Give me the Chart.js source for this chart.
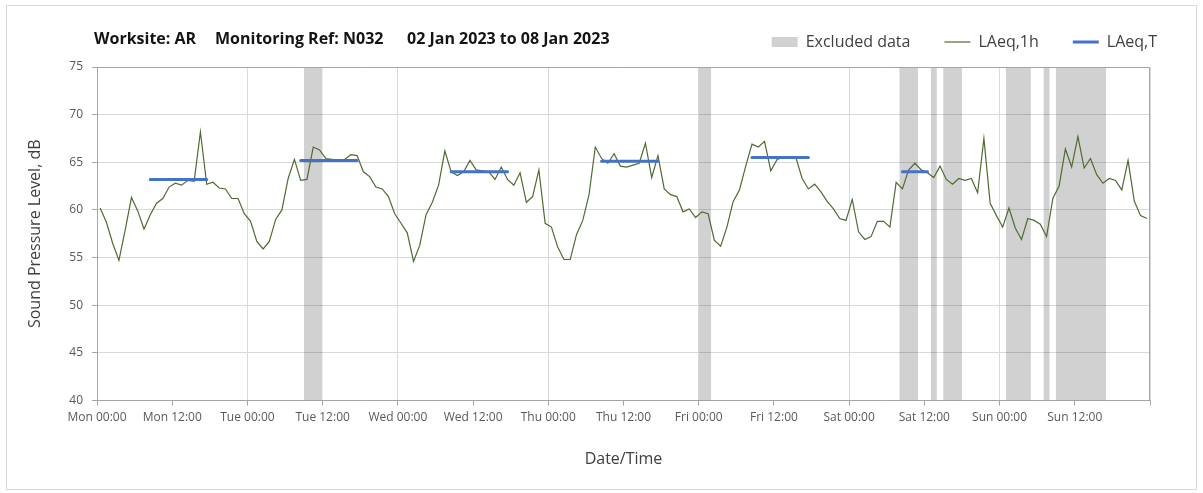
<!DOCTYPE html>
<html>
<head>
<meta charset="utf-8">
<title>Noise monitoring N032</title>
<script src="https://cdn.jsdelivr.net/npm/chart.js@4.4.0/dist/chart.umd.min.js"></script>
<style>
  html, body { margin: 0; padding: 0; background: #ffffff; }
  #wrap { position: relative; width: 1203px; height: 493px; overflow: hidden; }
  #frame { position: absolute; left: 6px; top: 5px; width: 1191px; height: 485px;
           border: 1px solid #d9d9d9; box-sizing: border-box; }
  #chart { position: absolute; left: 0; top: 0; }
  .head { position: absolute; top: 28px; line-height: 20px; white-space: pre;
          font-family: 'Open Sans', sans-serif; font-weight: 700; font-size: 16px; color: #141414; }
</style>
</head>
<body>
<div id="wrap">
  <div id="frame"></div>
  <canvas id="chart" width="1203" height="493"></canvas>
  <div class="head" style="left:94px">Worksite: AR</div>
  <div class="head" style="left:215px">Monitoring Ref: N032</div>
  <div class="head" style="left:407px">02 Jan 2023 to 08 Jan 2023</div>
</div>
<script>
// Hourly LAeq,1h values (dB), Monday 00:00 through Sunday 23:00
const laeq1h = [
  60.2, 58.7, 56.5, 54.7, 57.9, 61.3, 59.9, 58.0, 59.5, 60.7, 61.2, 62.4,
  62.8, 62.6, 63.1, 63.0, 68.2, 62.7, 62.9, 62.3, 62.2, 61.2, 61.2, 59.6,
  58.8, 56.7, 55.9, 56.7, 59.0, 60.0, 63.3, 65.3, 63.1, 63.2, 66.6, 66.3,
  65.4, 65.3, 65.2, 65.3, 65.8, 65.7, 64.0, 63.5, 62.4, 62.2, 61.4, 59.6,
  58.6, 57.6, 54.6, 56.3, 59.5, 60.8, 62.6, 66.2, 64.0, 63.6, 64.0, 65.2,
  64.2, 64.1, 64.0, 63.2, 64.5, 63.2, 62.6, 63.9, 60.8, 61.4, 64.2, 58.6,
  58.2, 56.1, 54.8, 54.8, 57.4, 58.9, 61.6, 66.6, 65.4, 64.9, 65.9, 64.6,
  64.5, 64.7, 64.9, 67.0, 63.4, 65.7, 62.2, 61.6, 61.4, 59.8, 60.1, 59.2,
  59.8, 59.6, 56.8, 56.2, 58.2, 60.9, 62.1, 64.6, 66.9, 66.6, 67.2, 64.1,
  65.3, 65.5, 65.6, 65.5, 63.3, 62.2, 62.7, 61.9, 60.9, 60.1, 59.1, 58.9,
  61.1, 57.7, 56.9, 57.2, 58.8, 58.8, 58.2, 62.9, 62.2, 64.2, 64.9, 64.2,
  63.9, 63.4, 64.6, 63.2, 62.7, 63.3, 63.1, 63.3, 61.8, 67.5, 60.7, 59.4,
  58.2, 60.2, 58.1, 56.9, 59.1, 58.9, 58.5, 57.2, 61.2, 62.5, 66.4, 64.5,
  67.7, 64.4, 65.4, 63.7, 62.8, 63.3, 63.1, 62.1, 65.2, 60.9, 59.4, 59.1
];

// LAeq,T assessment periods: first and last hour (hours from Monday 00:00) and level
const periodFirstHour = [8, 32, 56, 80, 104, 128];
const periodLastHour  = [17, 41, 65, 89, 113, 132];
const laeqT           = [63.2, 65.2, 64.0, 65.1, 65.5, 64.0];

// Excluded data windows (hours from Monday 00:00)
const excludedStart = [33, 96, 128, 133, 135, 145, 151, 153];
const excludedEnd   = [36, 98, 131, 134, 138, 149, 152, 161];

// Axis labels
const xTickLabels = [
  'Mon 00:00', 'Mon 12:00', 'Tue 00:00', 'Tue 12:00', 'Wed 00:00', 'Wed 12:00',
  'Thu 00:00', 'Thu 12:00', 'Fri 00:00', 'Fri 12:00', 'Sat 00:00', 'Sat 12:00',
  'Sun 00:00', 'Sun 12:00'
];
const yMin = 40, yMax = 75, yStep = 5;
const weekHours = 168, xStep = 12;

const GREEN = '#4f6b32';
const BLUE = '#4472c4';
const BAND = 'rgba(0,0,0,0.18)';
const TEXT = '#404040';
const TICK_TEXT = '#595959';
const FONT = "'Open Sans', sans-serif";

// Hourly points sit at the middle of each hour
const hourlyPoints = laeq1h.map((v, i) => ({ x: i + 0.5, y: v }));

// Period lines, separated by gaps
const periodPoints = [];
laeqT.forEach((v, k) => {
  periodPoints.push({ x: periodFirstHour[k] + 0.5, y: v });
  periodPoints.push({ x: periodLastHour[k] + 0.5, y: v });
  periodPoints.push({ x: periodLastHour[k] + 1, y: null });
});

const bandSets = excludedStart.map((s, k) => ({
  type: 'line',
  label: 'Excluded data',
  data: [{ x: s, y: yMax }, { x: excludedEnd[k], y: yMax }],
  fill: 'start',
  backgroundColor: BAND,
  borderColor: 'rgba(0,0,0,0)',
  borderWidth: 0,
  pointRadius: 0,
  order: 5
}));

// Plot-area outline on the top and right edges
const plotFrame = {
  id: 'plotFrame',
  afterDatasetsDraw(chart) {
    const { ctx, chartArea: a } = chart;
    ctx.save();
    ctx.strokeStyle = '#a6a6a6';
    ctx.lineWidth = 1;
    ctx.beginPath();
    ctx.moveTo(a.left, a.top + 0.5);
    ctx.lineTo(a.right - 0.5, a.top + 0.5);
    ctx.lineTo(a.right - 0.5, a.bottom);
    ctx.stroke();
    ctx.restore();
  }
};

new Chart(document.getElementById('chart'), {
  type: 'line',
  data: {
    datasets: [
      {
        label: 'LAeq,T',
        data: periodPoints,
        borderColor: BLUE,
        borderWidth: 3,
        borderCapStyle: 'round',
        pointRadius: 0,
        spanGaps: false,
        fill: false,
        order: 0
      },
      {
        label: 'LAeq,1h',
        data: hourlyPoints,
        borderColor: GREEN,
        borderWidth: 1.2,
        pointRadius: 0,
        tension: 0,
        fill: false,
        order: 1
      },
      ...bandSets
    ]
  },
  options: {
    responsive: false,
    devicePixelRatio: 1,
    animation: false,
    events: [],
    layout: { padding: { left: 0, right: 12, top: 0, bottom: 0 } },
    scales: {
      x: {
        type: 'linear',
        min: 0,
        max: weekHours,
        afterFit(scale) { scale.height = 92.5; },
        ticks: {
          stepSize: xStep,
          autoSkip: false,
          maxRotation: 0,
          padding: 5,
          color: TICK_TEXT,
          font: { family: FONT, size: 12 },
          callback: (v) => xTickLabels[v / xStep] ?? ''
        },
        grid: {
          color: (c) => (c.tick && c.tick.value % 24 === 0) ? '#d9d9d9' : 'rgba(0,0,0,0)',
          tickColor: '#a6a6a6',
          tickLength: 5,
          lineWidth: 1
        },
        border: { color: '#a6a6a6' },
        title: {
          display: true,
          text: 'Date/Time',
          color: TEXT,
          font: { family: FONT, size: 16 },
          padding: { top: 0, bottom: 23.5 }
        }
      },
      y: {
        min: yMin,
        max: yMax,
        afterFit(scale) { scale.width = 97; },
        ticks: {
          stepSize: yStep,
          padding: 9,
          color: TICK_TEXT,
          font: { family: FONT, size: 12 }
        },
        grid: { color: '#d9d9d9', tickColor: '#a6a6a6', tickLength: 5 },
        border: { color: '#a6a6a6' },
        title: {
          display: true,
          text: 'Sound Pressure Level, dB',
          color: TEXT,
          font: { family: FONT, size: 16 },
          padding: { top: 25.4, bottom: 0 }
        }
      },
      yRight: {
        position: 'right',
        display: true,
        afterFit(scale) { scale.width = 41; },
        ticks: { display: false },
        grid: { display: false },
        border: { display: false }
      }
    },
    plugins: {
      tooltip: { enabled: false },
      title: { display: false },
      subtitle: {
        display: true,
        text: '',
        weight: 500,
        font: { size: 1, lineHeight: 1 },
        padding: { top: 6, bottom: 0 }
      },
      legend: {
        display: true,
        position: 'top',
        align: 'end',
        labels: {
          usePointStyle: true,
          pointStyleWidth: 26,
          boxHeight: 10,
          padding: 34,
          color: TEXT,
          font: { family: FONT, size: 16 },
          generateLabels: () => [
            { text: 'Excluded data', fillStyle: BAND, strokeStyle: 'rgba(0,0,0,0)', lineWidth: 0,
              pointStyle: 'rect', fontColor: TEXT, hidden: false, datasetIndex: 2 },
            { text: 'LAeq,1h', fillStyle: GREEN, strokeStyle: GREEN, lineWidth: 1.2,
              pointStyle: 'line', fontColor: TEXT, hidden: false, datasetIndex: 1 },
            { text: 'LAeq,T', fillStyle: BLUE, strokeStyle: BLUE, lineWidth: 3,
              pointStyle: 'line', fontColor: TEXT, hidden: false, datasetIndex: 0 }
          ]
        }
      }
    }
  },
  plugins: [plotFrame]
});
</script>
</body>
</html>
